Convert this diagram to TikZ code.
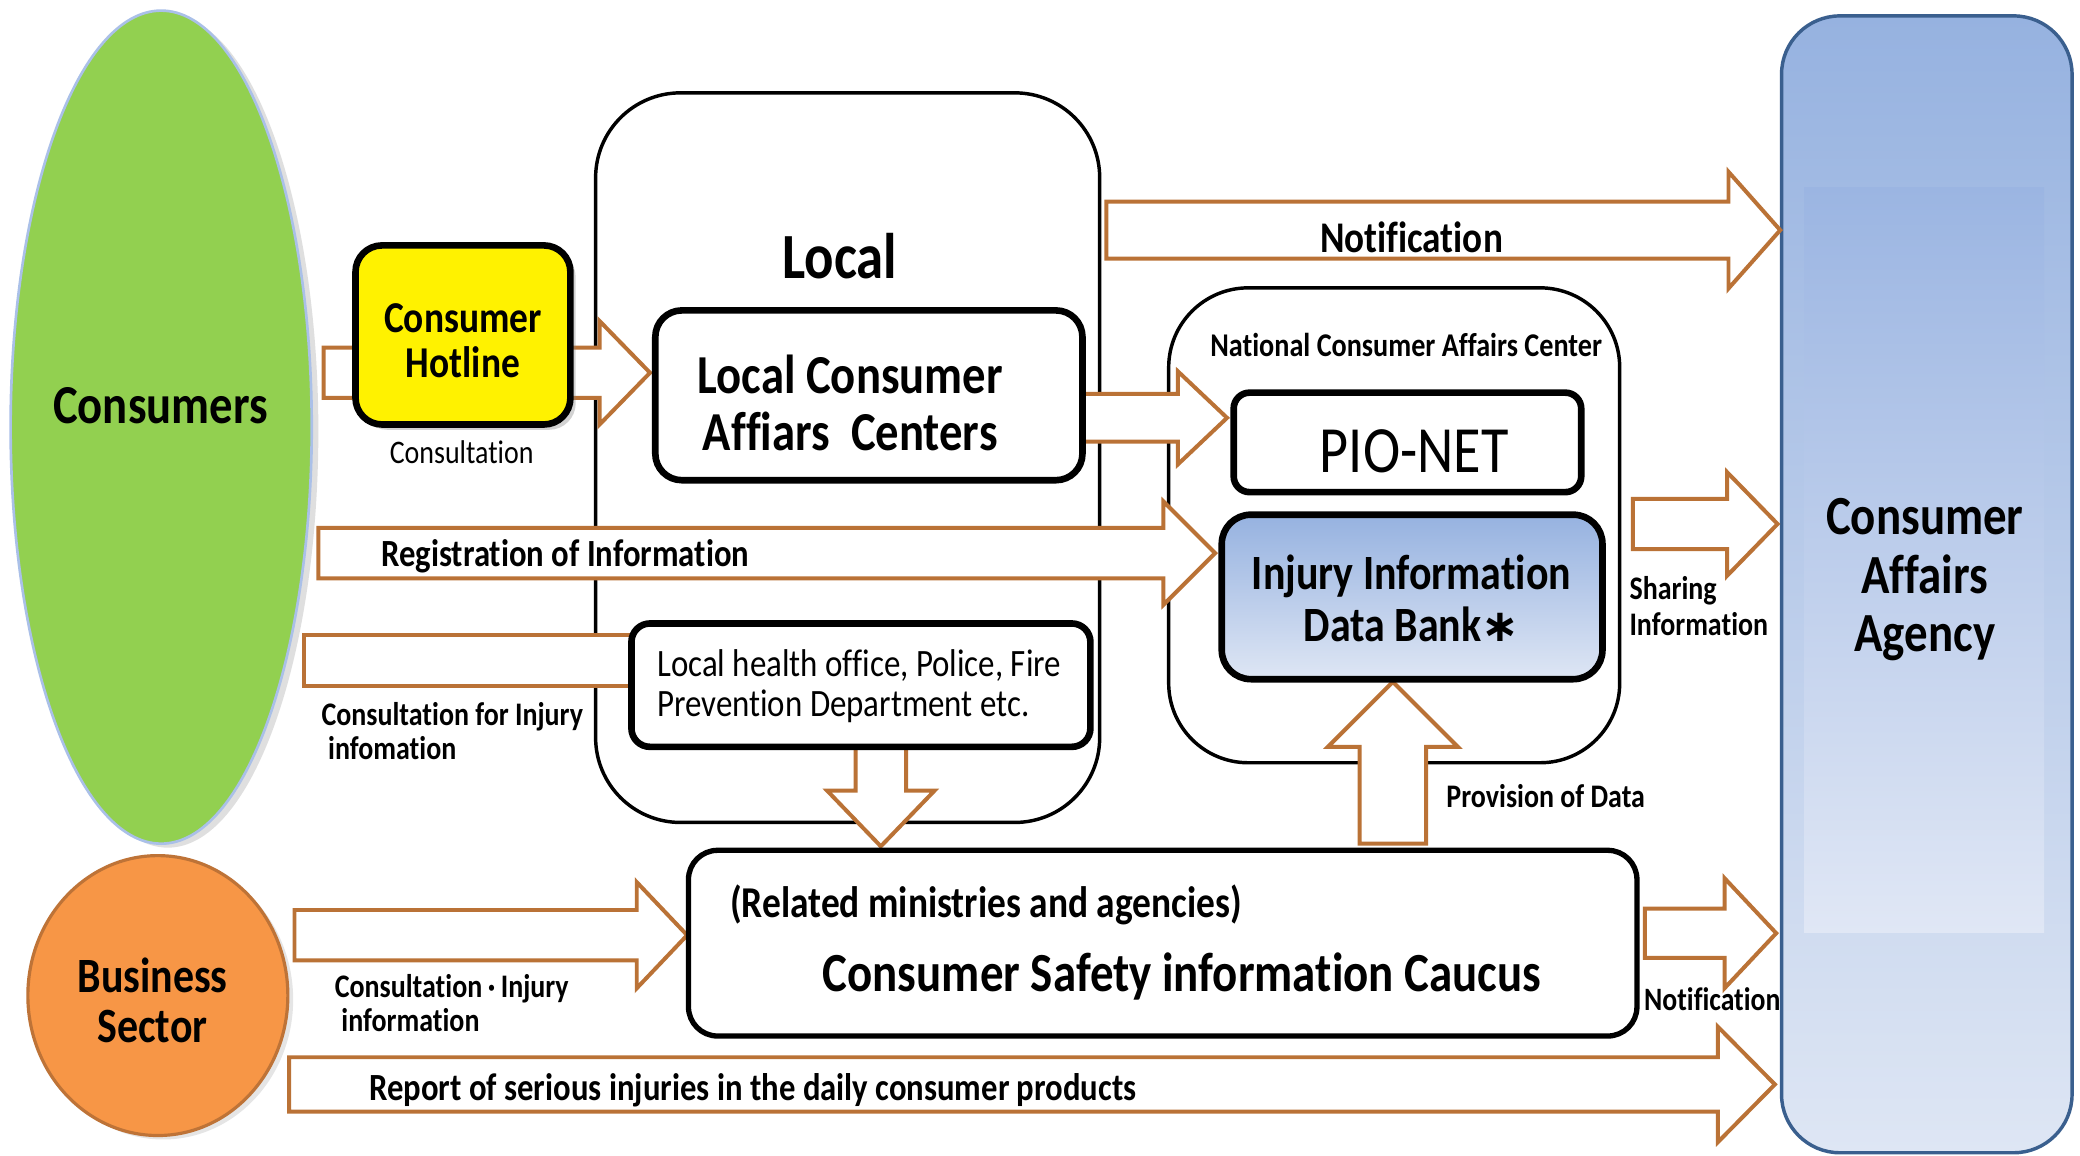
\documentclass[tikz,border=0pt]{standalone}
\usepackage{fontspec}
\setmainfont{Carlito}[FakeStretch=0.85, Ligatures=NoCommon]
\newfontfamily\djv{DejaVu Sans}
\usetikzlibrary{shadows,shapes.geometric}
\definecolor{arrowc}{RGB}{186,114,54}
\definecolor{cgreen}{RGB}{146,208,80}
\definecolor{corange}{RGB}{247,150,70}
\definecolor{cborange}{RGB}{190,115,55}
\definecolor{cblueT}{RGB}{150,178,224}
\definecolor{cblueB}{RGB}{222,230,244}
\definecolor{cinT}{RGB}{155,181,226}
\definecolor{cinB}{RGB}{224,231,245}
\definecolor{cbord}{RGB}{58,95,142}
\definecolor{celb}{RGB}{170,192,232}
\newcommand\fsz[2]{\fontsize{#1pt}{#2pt}\selectfont}
% horizontal block arrow: xstart, ycenter, xtip, half body, half head, head length
\newcommand\rarrow[6]{%
  \draw[arr] (#1,#2-#4) -- (#3-#6,#2-#4) -- (#3-#6,#2-#5) -- (#3,#2)
    -- (#3-#6,#2+#5) -- (#3-#6,#2+#4) -- (#1,#2+#4) -- cycle;}
% vertical block arrow: xcenter, ystart, ytip, half body, half head, head length (signed)
\newcommand\varrow[6]{%
  \draw[arr] (#1-#4,#2) -- (#1-#4,#3-#6) -- (#1-#5,#3-#6) -- (#1,#3)
    -- (#1+#5,#3-#6) -- (#1+#4,#3-#6) -- (#1+#4,#2) -- cycle;}
\tikzset{
  arr/.style={draw=arrowc, line width=1.5pt, fill=white, line join=miter},
  thinbox/.style={draw=black, line width=1.3pt, fill=white},
  thickbox/.style={draw=black, line width=2.5pt, fill=white},
  lbl/.style={inner sep=0pt, text=black},
}
\begin{document}
\begin{tikzpicture}[x=0.5pt,y=-0.5pt]
\useasboundingbox (0,0) rectangle (1568,871);
\fill[white] (0,0) rectangle (1568,871);

% ellipses
\node[ellipse, draw=celb, line width=1pt, fill=cgreen, minimum width=113.5pt,
  minimum height=314pt, inner sep=0pt,
  drop shadow={shadow xshift=2.5pt, shadow yshift=-1.5pt, opacity=0.25}] (cons) at (121.5,322) {};
\node[ellipse, draw=cborange, line width=1.2pt, fill=corange, minimum width=98pt,
  minimum height=105.5pt, inner sep=0pt,
  drop shadow={shadow xshift=2pt, shadow yshift=-1.5pt, opacity=0.2}] (bus) at (119,750.5) {};

% containers
\node[thinbox, rounded corners=32pt, minimum width=190pt, minimum height=275pt] (local) at (639,345) {};
\node[thinbox, rounded corners=30pt, minimum width=170pt, minimum height=179pt] (ncac) at (1051,396) {};
\node[draw=cbord, line width=1.3pt, rounded corners=22pt, top color=cblueT, bottom color=cblueB,
  minimum width=109.5pt, minimum height=428.5pt] (caa) at (1452.5,440.5) {};
\shade[top color=cinT, bottom color=cinB] (1360,141) rectangle (1541,703);

% block arrows
\rarrow{244}{281}{490}{19}{39}{38}
\rarrow{816}{315}{925}{18}{35}{37}
\rarrow{834}{173.5}{1342}{21.5}{44}{39}
\rarrow{240}{417}{916}{19}{39}{39}
\rarrow{1231}{395}{1340}{19}{39}{38}
\draw[arr] (229,479) rectangle (500,517);
\rarrow{222}{705}{518}{19}{40}{38}
\rarrow{1240}{703.5}{1339}{18.5}{41.5}{39}
\rarrow{218}{817.5}{1338}{20.5}{43.5}{43}
\varrow{664}{560}{638}{19}{40.5}{42}
\varrow{1050}{636}{514}{25}{49}{-49}

% boxes
\node[thickbox, fill=yellow, rounded corners=10pt, minimum width=81pt, minimum height=67.5pt,
  drop shadow={shadow xshift=2pt, shadow yshift=-2pt, opacity=0.35}] (hot) at (349,252.5) {};
\node[thickbox, rounded corners=10pt, minimum width=161pt, minimum height=64pt] (lcac) at (655,298) {};
\node[thickbox, rounded corners=6pt, minimum width=131pt, minimum height=37.5pt] (pio) at (1061,333.5) {};
\node[thickbox, rounded corners=11pt, top color=cblueT, bottom color=cblueB,
  minimum width=143.5pt, minimum height=62pt] (inj) at (1064.5,450) {};
\node[thickbox, rounded corners=7pt, minimum width=173pt, minimum height=46.5pt] (lho) at (649,516.5) {};
\node[draw=black, line width=2pt, fill=white, rounded corners=11pt, minimum width=357.5pt,
  minimum height=70pt] (cauc) at (876.5,711) {};

% texts
\node[lbl, font=\bfseries\fsz{20.7}{24}] (tcons) at (121,306) {Consumers};
\node[lbl, font=\bfseries\fsz{18.6}{19}, align=center] (tbus) at (115,754) {Business\\Sector};
\node[lbl, font=\bfseries\fsz{16.6}{17}, align=center] (thot) at (349,257) {Consumer\\Hotline};
\node[lbl, font=\fsz{12.4}{14}] (tconsul) at (348,341) {Consultation};
\node[lbl, font=\bfseries\fsz{24.3}{28}] (tlocal) at (633,193) {Local};
\node[lbl, font=\bfseries\fsz{20.7}{21.5}, align=center] (tlcac) at (641,304) {Local Consumer\\Affiars\ \ Centers};
\node[lbl, font=\bfseries\fsz{16.5}{18}] (tnot) at (1064,179) {Notification};
\node[lbl, font=\bfseries\fsz{12.5}{14}] (tncac) at (1060,260) {National Consumer Affairs Center};
\node[lbl, font=\fsz{24.9}{28}] (tpio) at (1066,340) {PIO-NET};
\node[lbl, font=\bfseries\fsz{18.6}{19.5}, align=center] (tinj) at (1064,451) {Injury Information\\Data Bank{\djv\bfseries\fontsize{17pt}{18pt}\selectfont ∗}};
\node[lbl, font=\bfseries\fsz{14.5}{16}, anchor=west] (treg) at (287,419) {Registration of Information};
\node[lbl, font=\fsz{14.6}{15}, align=left, anchor=west] (tlho) at (495,517) {Local health office, Police, Fire\\Prevention Department etc.};
\node[lbl, font=\bfseries\fsz{12.4}{13}, align=left, anchor=west] (tcfi) at (242,551) {Consultation for Injury\\\hspace*{2.5pt}infomation};
\node[lbl, font=\bfseries\fsz{12.4}{13.5}, align=left, anchor=west] (tshare) at (1228,457) {Sharing\\Information};
\node[lbl, font=\bfseries\fsz{20.8}{22}, align=center] (tcaa) at (1451,437) {Consumer\\Affairs\\Agency};
\node[lbl, font=\bfseries\fsz{12.4}{14}, anchor=west] (tprov) at (1090,600) {Provision of Data};
\node[lbl, font=\bfseries\fsz{12.4}{13}, align=left, anchor=west] (tci) at (252,756) {Consultation\,·\,Injury\\\hspace*{2.5pt}information};
\node[lbl, font=\bfseries\fsz{16.6}{18}, anchor=west] (trel) at (550,682) {(Related ministries and agencies)};
\node[lbl, font=\bfseries\fsz{20.8}{24}] (tcauc) at (891,736) {Consumer Safety information Caucus};
\node[lbl, font=\bfseries\fsz{12.3}{14}, anchor=west] (tnot2) at (1239,753) {Notification};
\node[lbl, font=\bfseries\fsz{14.5}{16}, anchor=west] (trep) at (278,822) {Report of serious injuries in the daily consumer products};
\end{tikzpicture}
\end{document}
